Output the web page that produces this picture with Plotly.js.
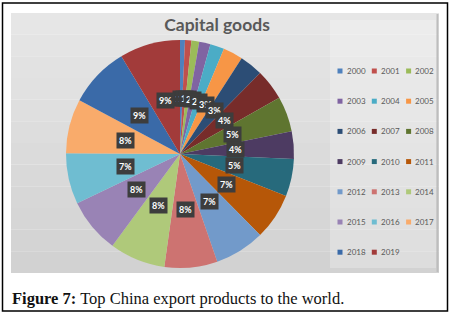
<!DOCTYPE html>
<html><head><meta charset="utf-8">
<script src="https://cdn.plot.ly/plotly-3.0.1.min.js"></script>
<style>html,body{margin:0;padding:0;background:#fff;}#chart{width:450px;height:314px;}</style>
</head><body><div id="chart"></div>
<script>
const years = ['2000','2001','2002','2003','2004','2005','2006','2007','2008','2009',
               '2010','2011','2012','2013','2014','2015','2016','2017','2018','2019'];
const shares = [0.7,0.9,1.1,1.6,2.0,2.8,3.3,4.4,5.0,3.9,
                5.3,6.6,7.1,7.5,7.9,7.8,7.2,7.7,8.6,8.6];
const colors = ['#4F81BD','#C0504D','#9BBB59','#8064A2','#4BACC6','#F79646',
                '#2C4D75','#772C2A','#5F7530','#4D3B62','#276A7C','#B65708',
                '#729ACA','#CD7371','#AFC97A','#9983B5','#6FBDD1','#F9AB6B',
                '#3A6AA8','#A23B3A'];
const chartTitle = 'Capital goods';
const caption = '<b>Figure 7:</b> Top China export products to the world.';

const W = 450, H = 314;
const px = x => x / W, py = y => 1 - y / H;
const cx = 180, cy = 154, R = 114;

const total = shares.reduce((a, b) => a + b, 0);
const annotations = [];
let cum = 0;
shares.forEach((v, i) => {
  const a = (cum + v / 2) / total * 2 * Math.PI;
  cum += v;
  const r = 0.49 * R;
  annotations.push({
    x: px(cx + r * Math.sin(a)), y: py(cy - r * Math.cos(a)),
    xref: 'paper', yref: 'paper', showarrow: false, xanchor: 'center', yanchor: 'middle',
    text: Math.round(v / total * 100) + '%',
    font: {family: 'Lato', size: 9, color: '#ffffff', weight: 'bold'},
    bgcolor: '#3d3d3d', borderpad: 2
  });
});

// background with a soft vertical gradient
const shapes = [];
const nBands = 12, bgTop = 13, bgBot = 273;
for (let k = 0; k < nBands; k++) {
  const t = k / (nBands - 1);
  const c = Math.round(230 - 20 * t);
  shapes.push({type: 'rect', xref: 'paper', yref: 'paper', x0: px(11), x1: px(439),
    y0: py(bgTop + (k + 1) * (bgBot - bgTop) / nBands), y1: py(bgTop + k * (bgBot - bgTop) / nBands),
    fillcolor: `rgb(${c},${c},${c})`, line: {width: 0}, layer: 'below'});
}
shapes.push({type: 'rect', xref: 'paper', yref: 'paper', x0: px(330), x1: px(436), y0: py(268), y1: py(20),
  fillcolor: 'rgba(255,255,255,0.25)', line: {width: 0}, layer: 'below'});
shapes.push({type: 'line', xref: 'paper', yref: 'paper', x0: px(437.5), x1: px(437.5), y0: py(272), y1: py(14),
  line: {width: 2, color: '#bdbdbd'}, layer: 'below'});
shapes.push({type: 'rect', xref: 'paper', yref: 'paper', x0: px(2.5), x1: px(447.5), y0: py(311), y1: py(3),
  fillcolor: 'rgba(0,0,0,0)', line: {width: 1.5, color: '#000'}, layer: 'above'});

// legend (3 columns)
years.forEach((yr, i) => {
  const col = i % 3, row = Math.floor(i / 3);
  const x = 337.5 + col * 34.3, y = 71 + row * 30.2;
  shapes.push({type: 'rect', xref: 'paper', yref: 'paper', x0: px(x), x1: px(x + 5),
    y0: py(y + 2.5), y1: py(y - 2.5), fillcolor: colors[i], line: {width: 0}});
  annotations.push({x: px(x + 7), y: py(y), xref: 'paper', yref: 'paper', showarrow: false,
    xanchor: 'left', yanchor: 'middle', text: yr,
    font: {family: 'Lato', size: 8, color: '#595959'}});
});

annotations.push({x: px(10), y: py(298), xref: 'paper', yref: 'paper', showarrow: false,
  xanchor: 'left', yanchor: 'middle', text: caption,
  font: {family: 'Liberation Serif', size: 16.5, color: '#111'}});

const data = [{
  type: 'pie', values: shares, labels: years, sort: false, direction: 'clockwise',
  rotation: 0, textinfo: 'none', showlegend: false,
  marker: {colors: colors, line: {width: 0}},
  domain: {x: [px(cx - R), px(cx + R)], y: [py(cy + R), py(cy - R)]}
}];

const layout = {
  width: W, height: H, margin: {l: 0, r: 0, t: 0, b: 0},
  paper_bgcolor: '#ffffff', showlegend: false,
  title: {text: '<b>' + chartTitle + '</b>', x: px(217), y: py(25), xanchor: 'center', yanchor: 'middle',
    font: {family: 'Lato', size: 17.5, color: '#595959'}},
  shapes: shapes, annotations: annotations
};
Plotly.newPlot('chart', data, layout, {displayModeBar: false, staticPlot: true});
</script></body></html>
